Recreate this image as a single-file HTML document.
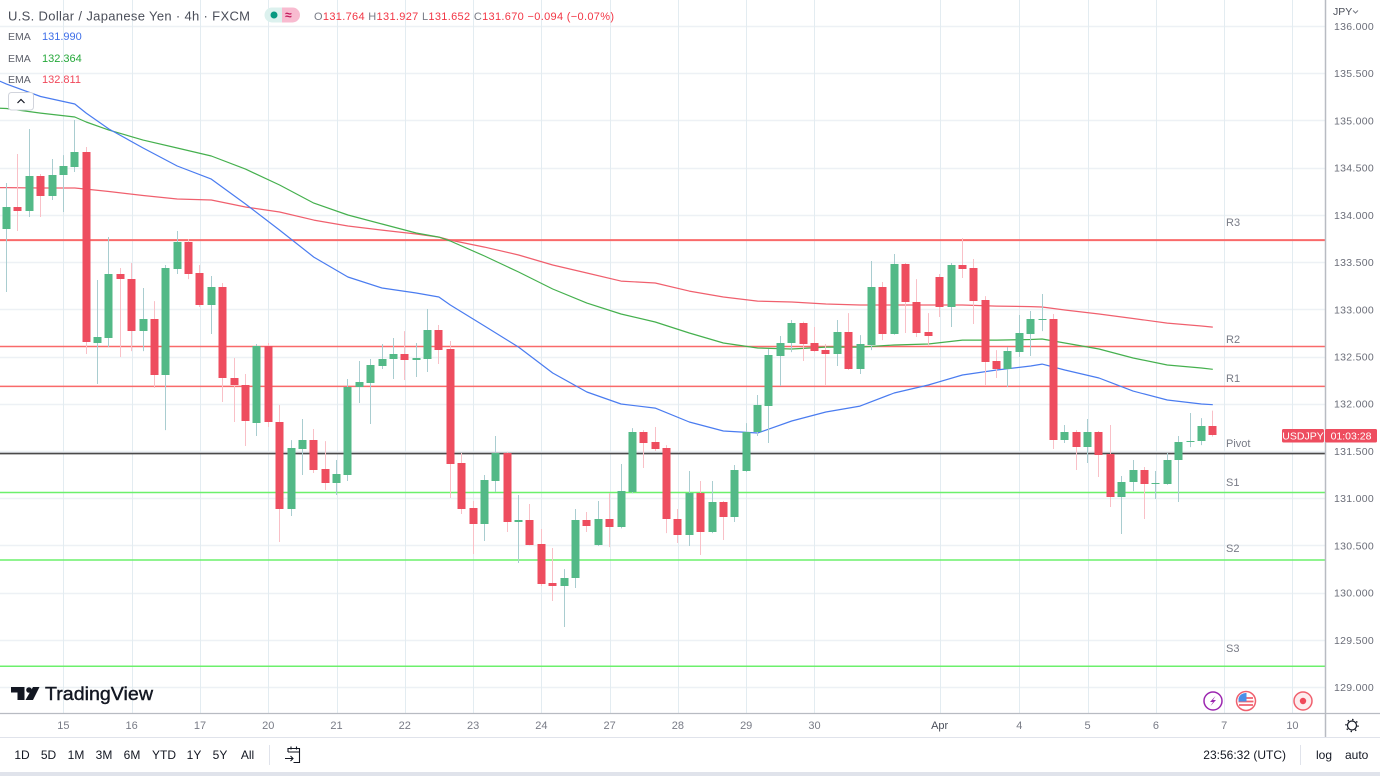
<!DOCTYPE html>
<html lang="en">
<head>
<meta charset="utf-8">
<title>USD/JPY 4h chart</title>
<style>
html,body{margin:0;padding:0;background:#fff;width:1380px;height:776px;overflow:hidden}
svg{display:block;font-family:"Liberation Sans",sans-serif}
text{white-space:pre}
</style>
</head>
<body>
<svg id="chart" width="1380" height="776" viewBox="0 0 1380 776" xmlns="http://www.w3.org/2000/svg">
  <rect x="0" y="0" width="1380" height="776" fill="#ffffff"/>
  <g id="grid"></g>
  <g id="pivots"></g>
  <g id="emas"></g>
  <g id="candles"></g>

  <g font-size="11" fill="#787b86">
    <text x="1226" y="226">R3</text>
    <text x="1226" y="343">R2</text>
    <text x="1226" y="382">R1</text>
    <text x="1226" y="447">Pivot</text>
    <text x="1226" y="486">S1</text>
    <text x="1226" y="552">S2</text>
    <text x="1226" y="652">S3</text>
  </g>

  <!-- Legend -->
  <text x="8" y="20.5" font-size="13" fill="#4a4e59" textLength="242" lengthAdjust="spacing">U.S. Dollar / Japanese Yen · 4h · FXCM</text>
  <g>
    <path d="M272 7.5h10v15h-10a7.5 7.5 0 0 1 0-15z" fill="#dcf1ee"/>
    <path d="M282 7.5h10.5a7.5 7.5 0 0 1 0 15h-10.5z" fill="#f8bbd0"/>
    <circle cx="274" cy="15" r="3.5" fill="#089981"/>
    <text x="285" y="19" font-size="12" font-weight="bold" fill="#c2185b">≈</text>
  </g>
  <text x="314" y="20" font-size="11" fill="#f23645" textLength="300" lengthAdjust="spacing"><tspan fill="#787b86">O</tspan>131.764 <tspan fill="#787b86">H</tspan>131.927 <tspan fill="#787b86">L</tspan>131.652 <tspan fill="#787b86">C</tspan>131.670 −0.094 (−0.07%)</text>

  <g font-size="11">
    <text x="8" y="40" font-size="10.5" fill="#5d606b">EMA</text>
    <text x="42" y="40" fill="#3f6fe8">131.990</text>
    <text x="8" y="62" font-size="10.5" fill="#5d606b">EMA</text>
    <text x="42" y="62" fill="#25a83a">132.364</text>
    <text x="8" y="83" font-size="10.5" fill="#5d606b">EMA</text>
    <text x="42" y="83" fill="#f0485a">132.811</text>
  </g>

  <!-- Axes -->
  <line x1="1325.5" y1="0" x2="1325.5" y2="737" stroke="#b8bbc2" stroke-width="1.5"/>
  <line x1="0" y1="713.5" x2="1380" y2="713.5" stroke="#b8bbc2" stroke-width="1.2"/>
  <line x1="0" y1="737.5" x2="1380" y2="737.5" stroke="#e0e3eb"/>
  <rect x="0" y="772" width="1380" height="4" fill="#e0e3eb"/>
  <g id="priceLabels"></g>
  <g id="timeLabels"></g>
  <g>
    <text x="1333" y="15" font-size="10.5" fill="#4a4e59">JPY</text>
    <path d="M1353 10.5l2.5 2.5 2.5-2.5" fill="none" stroke="#787b86"/>
  </g>

  <!-- Last price label -->
  <g>
    <rect x="1282" y="429" width="42" height="13.5" rx="1.5" fill="#ee4d5f"/>
    <rect x="1325" y="429" width="52" height="13.5" rx="1.5" fill="#ee4d5f"/>
    <text x="1303" y="439.5" font-size="10.5" fill="#ffffff" text-anchor="middle">USDJPY</text>
    <text x="1351" y="439.5" font-size="10.5" fill="#ffffff" text-anchor="middle">01:03:28</text>
  </g>

  <!-- Logo -->
  <g>
    <path d="M11 687h13.5v13h-7v-7.500h-6.500z" fill="#131722"/>
    <circle cx="29" cy="690" r="2.800" fill="#131722"/>
    <path d="M33 687h6.500l-6.500 13h-7.500z" fill="#131722"/>
    <text x="45" y="700" font-size="18.5" fill="#131722" stroke="#131722" stroke-width="0.4" textLength="108" lengthAdjust="spacingAndGlyphs">TradingView</text>
  </g>

  <!-- Event icons -->
  <g>
    <circle cx="1213" cy="701" r="9" fill="#fff" stroke="#9c27b0" stroke-width="1.500"/>
    <path d="M1215.500 696l-5.500 6h3l-2.500 4 5.500-6h-3z" fill="#9c27b0"/>
  </g>
  <g>
    <circle cx="1246" cy="701" r="9.500" fill="#fff" stroke="#f0606e" stroke-width="1.500"/>
    <path d="M1239 698h14M1238.500 701.500h15M1239 705h14" stroke="#f0606e" stroke-width="1.800"/>
    <path d="M1238.500 701.500v-3a7.500 7.500 0 0 1 8-5.500v8.500z" fill="#4a8fe8"/>
  </g>
  <g>
    <circle cx="1303" cy="701" r="9" fill="#fdecee" stroke="#f0606e" stroke-width="1.500"/>
    <circle cx="1303" cy="701" r="3.200" fill="#f0485a"/>
  </g>
  <g>
    <circle cx="1352" cy="725.500" r="4.500" fill="none" stroke="#131722" stroke-width="1.200"/>
    <circle cx="1352" cy="725.500" r="6" fill="none" stroke="#131722" stroke-width="1.400" stroke-dasharray="1.400 3.300"/>
  </g>

  <!-- Bottom toolbar -->
  <g font-size="12" fill="#131722" text-anchor="middle">
    <text x="22" y="759">1D</text>
    <text x="48.500" y="759">5D</text>
    <text x="76" y="759">1M</text>
    <text x="104" y="759">3M</text>
    <text x="132" y="759">6M</text>
    <text x="164" y="759">YTD</text>
    <text x="194" y="759">1Y</text>
    <text x="220" y="759">5Y</text>
    <text x="247.500" y="759">All</text>
  </g>
  <line x1="269.500" y1="745" x2="269.500" y2="765" stroke="#e0e3eb"/>
  <g fill="none" stroke="#131722" stroke-width="1.100">
    <path d="M288 752v-3.500h11.500v14h-6M288 752h11.500M291 746.500v3M296.500 746.500v3"/>
    <path d="M285 758.500h8M290.500 756l2.500 2.500-2.500 2.500"/>
  </g>
  <text x="1286" y="759" font-size="12" fill="#131722" text-anchor="end">23:56:32 (UTC)</text>
  <line x1="1300.500" y1="745" x2="1300.500" y2="765" stroke="#e0e3eb"/>
  <text x="1316" y="759" font-size="12" fill="#131722">log</text>
  <text x="1345" y="759" font-size="12" fill="#131722">auto</text>
</svg>

<script>
// Candle data (USD/JPY 4h)
var opens = [133.850,134.083,134.040,134.411,134.199,134.422,134.507,134.665,132.643,132.696,133.374,133.320,132.769,132.897,132.304,133.426,133.712,133.384,133.045,133.236,132.272,132.198,131.795,132.611,131.806,130.885,131.520,131.615,131.309,131.160,131.245,132.177,132.219,132.399,132.473,132.527,132.463,132.473,132.780,132.579,131.372,130.896,130.726,131.181,131.478,130.747,130.768,130.515,130.101,130.069,130.154,130.768,130.504,130.779,130.694,131.065,131.700,131.594,131.531,130.779,130.609,131.054,130.641,130.959,130.800,131.287,131.700,131.975,132.505,132.643,132.854,132.643,132.568,132.527,132.759,132.368,132.622,133.236,132.738,133.480,133.077,132.759,133.342,133.024,133.469,133.437,133.098,132.452,132.368,132.547,132.738,132.886,132.897,131.615,131.700,131.541,131.700,131.467,131.012,131.171,131.298,131.150,131.150,131.404,131.594,131.605,131.764];
var highs = [134.337,134.644,134.909,134.433,134.591,134.633,135.004,134.718,133.310,133.765,133.437,133.490,133.225,133.087,133.469,133.829,133.744,133.469,133.352,133.278,132.484,132.315,132.632,132.643,131.986,131.615,131.838,131.732,131.604,131.404,132.262,132.452,132.473,132.632,132.696,132.769,132.643,133.003,132.833,132.664,131.478,130.970,131.245,131.658,131.490,131.033,130.938,130.673,130.472,130.249,130.885,130.853,130.970,131.054,131.362,131.742,131.721,131.753,131.562,130.885,131.287,131.181,131.181,130.970,131.351,131.795,132.092,132.579,132.717,132.886,132.870,132.812,132.632,132.886,132.960,132.727,133.511,133.289,133.585,133.490,133.320,132.960,133.374,133.490,133.754,133.532,133.140,132.568,132.600,132.939,132.982,133.162,132.950,131.774,131.721,131.838,131.711,131.774,131.235,131.404,131.330,131.287,131.478,131.658,131.902,131.848,131.927];
var lows = [133.183,133.829,133.977,133.977,134.157,134.030,134.454,132.527,132.209,132.600,132.495,132.557,132.557,132.166,131.721,133.374,133.320,133.024,132.738,132.018,131.806,131.552,131.658,131.753,130.536,130.811,131.245,131.266,131.086,131.033,131.181,132.007,131.785,132.368,132.262,132.251,132.283,132.336,132.421,131.001,130.832,130.409,130.546,131.065,130.641,130.313,130.500,130.069,129.911,129.635,130.048,130.641,130.493,130.482,130.680,131.050,131.319,131.499,130.630,130.525,130.493,130.398,130.630,130.557,130.747,131.277,131.658,131.584,132.187,132.547,132.452,132.547,132.198,132.399,132.357,132.315,132.568,132.674,132.730,132.749,132.706,132.611,132.918,132.812,133.331,132.844,132.198,132.272,132.177,132.495,132.505,132.769,131.520,131.584,131.298,131.372,131.224,130.906,130.620,131.075,130.779,130.991,131.140,130.959,131.541,131.562,131.652];
var closes = [134.083,134.040,134.411,134.199,134.422,134.517,134.665,132.654,132.706,133.374,133.320,132.769,132.897,132.304,133.437,133.712,133.374,133.045,133.236,132.272,132.198,131.816,132.611,131.806,130.885,131.531,131.615,131.298,131.160,131.256,132.177,132.230,132.410,132.473,132.527,132.463,132.484,132.780,132.568,131.362,130.885,130.726,131.192,131.478,130.747,130.768,130.504,130.091,130.069,130.154,130.768,130.704,130.779,130.694,131.075,131.700,131.584,131.520,130.779,130.609,131.054,130.641,130.959,130.800,131.298,131.700,131.986,132.516,132.643,132.854,132.632,132.557,132.527,132.759,132.368,132.632,133.236,132.738,133.480,133.077,132.749,132.717,133.024,133.469,133.426,133.087,132.441,132.368,132.557,132.749,132.897,132.897,131.615,131.700,131.541,131.700,131.457,131.012,131.171,131.298,131.150,131.160,131.404,131.594,131.605,131.764,131.670];

// EMA data, sampled at these bar numbers
var emaBars = [-1,0,3,6,7,9,12,15,18,21,24,27,30,33,36,38,39,42,45,48,51,54,57,60,63,66,69,72,75,78,81,84,87,90,91,93,96,99,102,105,106];
var emaFast = [135.438,135.385,135.253,135.174,135.078,134.909,134.708,134.517,134.379,134.115,133.839,133.553,133.342,133.225,133.172,133.130,133.045,132.823,132.600,132.325,132.124,131.997,131.954,131.806,131.711,131.690,131.817,131.912,131.975,132.113,132.198,132.304,132.357,132.399,132.420,132.357,132.272,132.134,132.039,131.997,131.990];
var emaMid = [135.131,135.126,135.078,135.036,134.983,134.898,134.792,134.708,134.623,134.485,134.316,134.125,133.998,133.903,133.808,133.765,133.723,133.564,133.395,133.215,133.066,132.950,132.865,132.749,132.643,132.590,132.579,132.600,132.600,132.622,132.632,132.674,132.674,132.680,132.685,132.643,132.579,132.484,132.410,132.378,132.364];
var emaSlow = [134.289,134.289,134.284,134.284,134.273,134.247,134.205,134.168,134.157,134.083,134.030,133.945,133.882,133.839,133.797,133.765,133.733,133.659,133.575,133.469,133.384,133.299,133.278,133.193,133.130,133.087,133.077,133.056,133.045,133.045,133.045,133.045,133.034,133.029,133.024,132.992,132.950,132.902,132.854,132.823,132.811];

// Pivot levels
var pivotNames = ['R3','R2','R1','Pivot','S1','S2','S3'];
var pivotPrices = [133.733,132.606,132.184,131.472,131.060,130.345,129.220];

// Axis ticks
var priceTicks = [136,135.5,135,134.5,134,133.5,133,132.5,132,131.5,131,130.5,130,129.5,129];
var timeTickLabels = ['15','16','17','20','21','22','23','24','27','28','29','30','Apr','4','5','6','7','10'];
var timeTickBars = [5,11,17,23,29,35,41,47,53,59,65,71,82,89,95,101,107,113];

function yScale(price){ return 26 + (136 - price) * 94.43; }
function xScale(bar){ return 6.5 + bar * 11.38; }

var NS = 'http://www.w3.org/2000/svg';
function make(tag, attrs, parent){
  var el = document.createElementNS(NS, tag);
  for (var k in attrs) el.setAttribute(k, attrs[k]);
  parent.appendChild(el);
  return el;
}

var grid = document.getElementById('grid');
priceTicks.forEach(function(p){
  var y = Math.round(yScale(p)) + 0.5;
  var l = make('line', {x1:0, x2:1325, y1:y, y2:y, stroke:'#edf1f5', 'stroke-width':1.5}, grid);
  
  
});
timeTickBars.forEach(function(b){
  var x = Math.round(xScale(b)) + 0.5;
  var l = make('line', {x1:x, x2:x, y1:0, y2:713, stroke:'#e3ecf1', 'stroke-width':1}, grid);
  
  
});

var pivots = document.getElementById('pivots');
pivotPrices.forEach(function(p, i){
  var name = pivotNames[i];
  var color = name[0] === 'R' ? '#f96a6a' : (name[0] === 'S' ? '#6cf06c' : '#4a4a4a');
  var y = yScale(p);
  if (name === 'Pivot') {
    var h = make('line', {x1:0, x2:1325, y1:y - 0.8, y2:y - 0.8, stroke:'#cfd2d6', 'stroke-width':1.5}, pivots);
    
    
  }
  var l = make('line', {x1:0, x2:1325, y1:y, y2:y, stroke:color, 'stroke-width': name === 'R3' ? 2 : 1.5}, pivots);
  
  
});

var emas = document.getElementById('emas');
function drawEma(values, color, label){
  var pts = values.map(function(v, i){ return xScale(emaBars[i]).toFixed(1) + ',' + yScale(v).toFixed(1); }).join(' ');
  var l = make('polyline', {points:pts, fill:'none', stroke:color, 'stroke-width':1.2, 'stroke-linejoin':'round'}, emas);
  
  
}
drawEma(emaSlow, '#f0606e', 'ema-slow-line');
drawEma(emaMid, '#45b04e', 'ema-mid-line');
drawEma(emaFast, '#4a7cf0', 'ema-fast-line');

var candles = document.getElementById('candles');
opens.forEach(function(o, i){
  var c = closes[i], up = c >= o;
  var cx = Math.round(xScale(i) - 0.5) + 0.5;
  var g = make('g', {}, candles);
  
  
  make('line', {x1:cx, x2:cx, y1:yScale(highs[i]), y2:yScale(lows[i]), stroke: up ? '#a9cdd0' : '#f9c0c7', 'stroke-width':1}, g);
  var top = Math.round(yScale(Math.max(o, c)));
  var bot = Math.round(yScale(Math.min(o, c)));
  make('rect', {x:cx - 4, y:top, width:8, height:Math.max(bot - top, 1), fill: up ? '#53b987' : '#ee4d5f'}, g);
});

var priceLabels = document.getElementById('priceLabels');
priceTicks.forEach(function(p){
  var t = make('text', {x:1334, y:yScale(p) + 4, 'font-size':10.5, fill:'#6a6d78', 'letter-spacing':'0.3'}, priceLabels);
  
  
  t.textContent = p.toFixed(3);
});

var timeLabels = document.getElementById('timeLabels');
timeTickBars.forEach(function(b, i){
  var t = make('text', {x:xScale(b), y:729, 'font-size':11, 'text-anchor':'middle', fill: timeTickLabels[i] === 'Apr' ? '#4a4e59' : '#787b86'}, timeLabels);
  
  
  t.textContent = timeTickLabels[i];
});
</script>

<svg width="1380" height="776" viewBox="0 0 1380 776" xmlns="http://www.w3.org/2000/svg" style="position:absolute;left:0;top:0;pointer-events:none">
  <g>
    <rect x="8.5" y="92.5" width="25" height="17.5" rx="3" fill="#ffffff" stroke="#d1d4dc"/>
    <path d="M17.500 103l3.500-3.500 3.500 3.500" fill="none" stroke="#131722" stroke-width="1.200"/>
  </g>
</svg>
</body>
</html>
